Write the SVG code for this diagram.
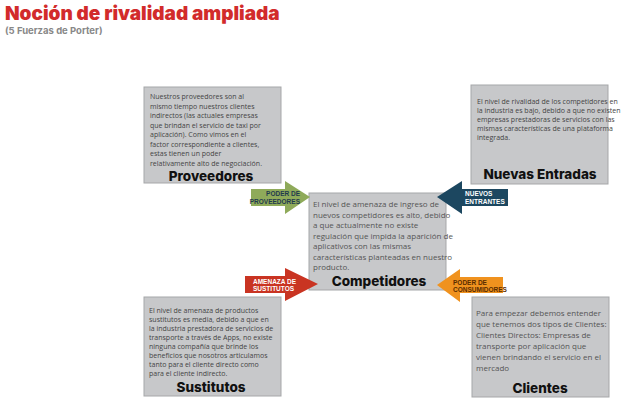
<svg xmlns="http://www.w3.org/2000/svg" width="640" height="413" viewBox="0 0 640 413">
<style>
.box{fill:#c7c8ca;stroke:#a6a7a9;stroke-width:1}
.t{font-family:"Open Sans",sans-serif;font-size:7px;fill:#444}
.tc{font-family:"Open Sans",sans-serif;font-size:8px;fill:#555}
.h{font-family:Inter,"Liberation Sans",sans-serif;font-weight:800;font-size:13.5px;fill:#111;text-anchor:middle}
.a{font-family:"Liberation Sans",sans-serif;font-weight:bold;font-size:6.5px;fill:#fff}
.ag{font-family:"Liberation Sans",sans-serif;font-weight:bold;font-size:6.5px;fill:#1f3a4d;text-anchor:end}
</style>
<rect width="640" height="413" fill="#fff"/>
<text x="5" y="20" font-family="Inter,'Liberation Sans',sans-serif" font-weight="900" font-size="19" fill="#d22b2b">Noción de rivalidad ampliada</text>
<text x="5" y="34" font-family="Inter,'Liberation Sans',sans-serif" font-weight="700" font-size="9.5" fill="#888">(5 Fuerzas de Porter)</text>
<g id="proveedores">
<rect class="box" x="144" y="87" width="137" height="96"/>
<text class="t"><tspan x="150" y="99">Nuestros proveedores son al</tspan><tspan x="150" y="108.5">mismo tiempo nuestros clientes</tspan><tspan x="150" y="118">indirectos (las actuales empresas</tspan><tspan x="150" y="127.5">que brindan el servicio de taxi por</tspan><tspan x="150" y="137">aplicación). Como vimos en el</tspan><tspan x="150" y="146.5">factor correspondiente a clientes,</tspan><tspan x="150" y="156">estas tienen un poder</tspan><tspan x="150" y="165.5">relativamente alto de negociación.</tspan></text>
<text class="h" x="211" y="181">Proveedores</text>
</g>
<g id="nuevas">
<rect class="box" x="471" y="85" width="137" height="99"/>
<text class="t" font-size="6.3"><tspan x="477" y="104">El nivel de rivalidad de los competidores en</tspan><tspan x="477" y="113">la industria es bajo, debido a que no existen</tspan><tspan x="477" y="122">empresas prestadoras de servicios con las</tspan><tspan x="477" y="131">mismas características de una plataforma</tspan><tspan x="477" y="140">integrada.</tspan></text>
<text class="h" x="540" y="179">Nuevas Entradas</text>
</g>
<g id="competidores">
<rect class="box" x="309" y="193" width="137" height="97"/>
<text class="tc"><tspan x="313" y="207">El nivel de amenaza de ingreso de</tspan><tspan x="313" y="217.5">nuevos competidores es alto, debido</tspan><tspan x="313" y="228">a que actualmente no existe</tspan><tspan x="313" y="238.5">regulación que impida la aparición de</tspan><tspan x="313" y="249">aplicativos con las mismas</tspan><tspan x="313" y="259.5">características planteadas en nuestro</tspan><tspan x="313" y="270">producto.</tspan></text>
<text class="h" x="379" y="286">Competidores</text>
</g>
<g id="sustitutos">
<rect class="box" x="144" y="297" width="137" height="99"/>
<text class="t" font-size="6.4"><tspan x="149" y="313">El nivel de amenaza de productos</tspan><tspan x="149" y="322">sustitutos es media, debido a que en</tspan><tspan x="149" y="331">la industria prestadora de servicios de</tspan><tspan x="149" y="340">transporte a través de Apps, no existe</tspan><tspan x="149" y="349">ninguna compañía que brinde los</tspan><tspan x="149" y="358">beneficios que nosotros articulamos</tspan><tspan x="149" y="367">tanto para el cliente directo como</tspan><tspan x="149" y="376">para el cliente indirecto.</tspan></text>
<text class="h" x="211" y="392">Sustitutos</text>
</g>
<g id="clientes">
<rect class="box" x="472" y="297" width="137" height="100"/>
<text class="tc"><tspan x="476" y="316">Para empezar debemos entender</tspan><tspan x="476" y="327">que tenemos dos tipos de Clientes:</tspan><tspan x="476" y="338">Clientes Directos: Empresas de</tspan><tspan x="476" y="349">transporte por aplicación que</tspan><tspan x="476" y="360">vienen brindando el servicio en el</tspan><tspan x="476" y="371">mercado</tspan></text>
<text class="h" x="540" y="393">Clientes</text>
</g>
<g id="connectors">
<polygon points="251,189 285,189 285,181 310,197 285,214 285,206 251,206" fill="#8faa5a"/>
<text class="ag" x="300" y="196">PODER DE</text><text class="ag" x="300" y="204">PROVEEDORES</text>
<polygon points="508,189 462,189 462,181 437,197 462,214 462,206 508,206" fill="#1c4760"/>
<text class="a" x="465" y="196">NUEVOS</text><text class="a" x="465" y="204">ENTRANTES</text>
<polygon points="245,276 285,276 285,268 318,284 285,301 285,293 245,293" fill="#c93422"/>
<text class="a" x="253" y="284">AMENAZA DE</text><text class="a" x="253" y="291">SUSTITUTOS</text>
<polygon points="503,277 460,277 460,269 437,285 460,302 460,293 503,293" fill="#f0921e"/>
<text class="a" x="453" y="285" style="fill:#5a2c00">PODER DE</text><text class="a" x="453" y="292" style="fill:#5a2c00">CONSUMIDORES</text>
</g>
</svg>
